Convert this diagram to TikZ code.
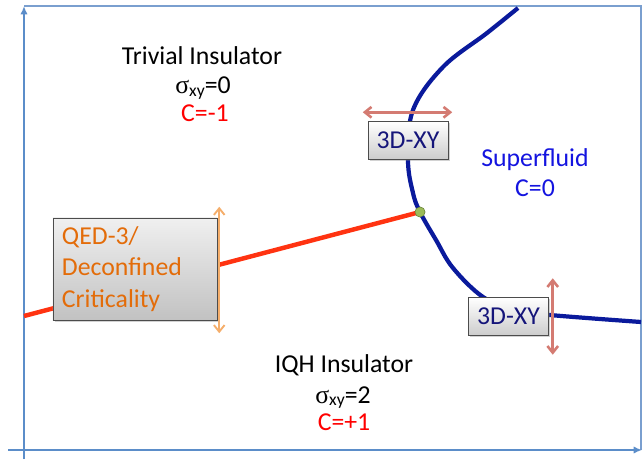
\documentclass[tikz,border=0pt]{standalone}
\usepackage{fontspec}
\setmainfont{Carlito}
\newfontfamily\greekfont{Liberation Serif}
\usetikzlibrary{arrows.meta, positioning, shadows}
\definecolor{AxisBlue}{HTML}{5B8DC9}
\definecolor{FrameBlue}{HTML}{7A9FCF}
\definecolor{CurveNavy}{HTML}{0A1A9C}
\definecolor{LineRed}{HTML}{FF3311}
\definecolor{DotGreen}{HTML}{9BBB59}
\definecolor{ArrowSalmon}{HTML}{D47B72}
\definecolor{ArrowOrange}{HTML}{F5AE6B}
\definecolor{TextOrange}{HTML}{E36C09}
\definecolor{BoxNavy}{HTML}{15157A}
\definecolor{FluidBlue}{HTML}{1414E0}
\newcommand{\sxy}[1]{{\greekfont σ}\raisebox{-2.5pt}{\fontsize{15}{15}\selectfont xy}=#1}

\begin{document}
\begin{tikzpicture}[
    x=0.03cm, y=-0.03cm,
    phase/.style={font=\fontsize{22}{26}\selectfont, inner sep=0pt, anchor=base},
    xybox/.style={draw=black!70, thin, top color=white, bottom color=black!20, drop shadow={shadow xshift=1.5pt, shadow yshift=-1.5pt, opacity=0.35}, minimum width=2.4cm, minimum height=1.14cm, inner sep=0pt, font=\fontsize{22}{26}\selectfont, text=BoxNavy},
    critbox/.style={draw=black!70, thin, top color=black!6, bottom color=black!24, drop shadow={shadow xshift=1.5pt, shadow yshift=-1.5pt, opacity=0.35}, minimum width=4.92cm, minimum height=3.06cm, text width=4.38cm, inner xsep=0.27cm, align=left, font=\fontsize{22}{27}\selectfont, text=TextOrange},
    axis/.style={-{Latex[length=2.5mm, width=2.2mm]}, line width=2.4pt, draw=AxisBlue},
    flow/.style={{Straight Barb[length=2mm, width=3.2mm]}-{Straight Barb[length=2mm, width=3.2mm]}, line width=2.2pt}
]
    \useasboundingbox[fill=white] (0,0) rectangle (644,460);

    % frame and axes
    \coordinate (origin) at (24,450);
    \coordinate (ytop) at (24,6);
    \coordinate (ybot) at (24,459);
    \coordinate (xleft) at (8,450);
    \coordinate (xright) at (642,450);
    \coordinate (corner) at (641,7);
    \draw[FrameBlue, line width=1.2pt] (ytop) -| (corner) -- (641,450);
    \draw[axis] (ybot) -- (ytop);
    \draw[axis] (xleft) -- (xright);

    % phase boundaries
    \coordinate (redstart) at (24,316);
    \node[circle, fill=DotGreen, draw=DotGreen!70!black, thin, minimum size=0.3cm, inner sep=0pt] (triple) at (420,212) {};
    \draw[LineRed, line width=3.8pt] (redstart) -- (triple.center);
    \draw[CurveNavy, line width=3.6pt] plot[smooth, tension=0.6] coordinates {(518,8) (487,33) (443,67) (413,110) (408,160) (413,193) (420,212) (436,240) (453,268) (483,297) (515,310) (550,315) (641,322)};
    \node[circle, fill=DotGreen, draw=DotGreen!70!black, thin, minimum size=0.3cm, inner sep=0pt] at (triple) {};

    % critical points
    \node[critbox] (qed) at (135,269) {QED-3/\\Deconfined\\Criticality};
    \node[xybox] (xytop) at (408,140.5) {3D-XY};
    \node[xybox] (xybot) at (508.5,316.5) {3D-XY};
    \draw[flow, ArrowOrange, line width=1.6pt] ([shift={(2,-11)}]qed.north east) -- ([shift={(2,13)}]qed.south east);
    \draw[flow, ArrowSalmon] ([shift={(-5,-9)}]xytop.north west) -- ([shift={(4,-9)}]xytop.north east);
    \draw[flow, ArrowSalmon] ([shift={(4,-19)}]xybot.north east) -- ([shift={(4,19)}]xybot.south east);

    % phases
    \node[phase] (trivial) at (202,65) {Trivial Insulator};
    \node[phase] (trivsig) at (203,94) {\sxy{0}};
    \node[phase, text=red] (trivc) at (205,122) {C=-1};
    \node[phase] (iqh) at (344,372) {IQH Insulator};
    \node[phase] (iqhsig) at (343,403) {\sxy{2}};
    \node[phase, text=red] (iqhc) at (344,430) {C=+1};
    \node[phase, text=FluidBlue] (fluid) at (535,167) {Superfluid};
    \node[phase, text=FluidBlue] (fluidc) at (535,197) {C=0};
\end{tikzpicture}
\end{document}
